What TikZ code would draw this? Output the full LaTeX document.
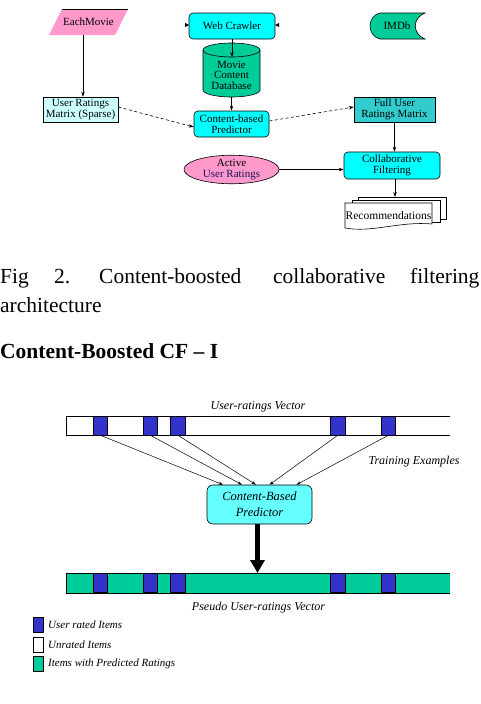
\documentclass[tikz,border=0pt]{standalone}
\usepackage{fontspec}
\setmainfont{Liberation Serif}
\usetikzlibrary{arrows.meta,shapes.geometric}
\definecolor{pinkc}{HTML}{FF99CC}
\definecolor{cyanc}{HTML}{00FFFF}
\definecolor{tealc}{HTML}{00CC99}
\definecolor{lcyan}{HTML}{CCFFFF}
\definecolor{fullc}{HTML}{33CCCC}
\definecolor{bluec}{HTML}{3333CC}
\definecolor{cbpc}{HTML}{66FFFF}
\definecolor{navyc}{HTML}{14145A}
\begin{document}
\begin{tikzpicture}[x=1pt,y=-1pt,
  tf/.style={font=\fontsize{11}{10.5}\selectfont, align=center, inner sep=0pt},
  box/.style={tf, draw, line width=0.6pt},
  rbox/.style={box, rounded corners=4pt},
  arr/.style={line width=0.6pt, -{Stealth[length=5pt,width=3.5pt]}},
  arrs/.style={line width=0.5pt, -{Stealth[length=4.5pt,width=3pt]}},
  it/.style={font=\fontsize{12}{13}\selectfont\itshape, align=center, inner sep=0pt},
  legt/.style={font=\fontsize{11}{11}\selectfont\itshape, anchor=west, inner sep=0pt},
  cell/.style={draw, line width=0.6pt, fill=bluec, minimum width=14.5pt, minimum height=19pt, inner sep=0pt},
  legbox/.style={draw, line width=0.5pt, minimum width=10pt, minimum height=15pt, inner sep=0pt},
  captxt/.style={font=\fontsize{21.5}{26}\selectfont, anchor=base west, inner sep=0pt}
]
\useasboundingbox (0,0) rectangle (480,704);

% ---------- top diagram ----------
% EachMovie parallelogram
\fill[pinkc] (62,9) -- (128,9) -- (115,35) -- (49,35) -- cycle;
\draw[line width=0.6pt] (62,9) -- (128,9);
\node[tf, minimum width=66pt, minimum height=26pt] (em) at (88.5,22) {EachMovie};

% Web Crawler
\node[rbox, fill=cyanc, minimum width=86pt, minimum height=26pt] (wc) at (232,26) {Web Crawler};
\fill (189,25) -- (185,23) -- (185,27) -- cycle;
\fill (275,25) -- (279,23) -- (279,27) -- cycle;

% IMDb
\draw[line width=0.6pt, fill=tealc] (380,13) -- (425,13) .. controls (412,18) and (412,34) .. (425,39) -- (380,39) .. controls (366.7,36) and (366.7,16) .. (380,13) -- cycle;
\node[tf] (imdb) at (397,26) {IMDb};

% Cylinder database
\draw[line width=0.6pt, fill=tealc] (203,50) -- (203,90) arc[start angle=180, end angle=0, x radius=28.5, y radius=7] -- (260,50) arc[start angle=0, end angle=-180, x radius=28.5, y radius=7] -- cycle;
\draw[line width=0.6pt] (203,50) arc[start angle=180, end angle=0, x radius=28.5, y radius=7];
\node[tf] (db) at (231.5,75) {Movie\\Content\\Database};
\coordinate (dbtop) at (232,57);
\coordinate (dbbot) at (231.5,97);

% boxes
\node[box, fill=lcyan, minimum width=75pt, minimum height=25pt] (urm) at (80.5,109.5) {User Ratings\\Matrix (Sparse)};
\node[rbox, fill=cyanc, minimum width=75pt, minimum height=26pt] (cbp) at (231.5,124) {Content-based\\Predictor};
\node[box, fill=fullc, minimum width=81pt, minimum height=25pt] (full) at (394.5,109.5) {Full User\\Ratings Matrix};
\node[rbox, fill=cyanc, minimum width=96pt, minimum height=27pt] (cf) at (392,165.5) {Collaborative\\Filtering};
\node[ellipse, draw, line width=0.6pt, fill=pinkc, minimum width=95pt, minimum height=25pt, inner sep=0pt, font=\fontsize{11}{10.5}\selectfont, align=center] (act) at (231.5,169.5) {Active\\\textcolor{navyc}{User Ratings}};

% Recommendations (multi-document)
\draw[line width=0.6pt, fill=white] (358,197) rectangle (446,219);
\draw[line width=0.6pt, fill=white] (352,200) rectangle (440,222);
\draw[line width=0.6pt, fill=white] (345,203) -- (432,203) -- (432,224) .. controls (400,221) and (372,233) .. (345,228) -- cycle;
\node[tf, font=\fontsize{11.5}{11.5}\selectfont] (rec) at (388.5,216) {Recommendations};
\coordinate (rectop) at (395,197);

% top connectors
\draw[arr] ([xshift=-5.5pt]em.south) -- ([xshift=2.5pt]urm.north);
\draw[arr] (wc.south) -- (dbtop);
\draw[arr] (dbbot) -- (cbp.north);
\draw[arr, dash pattern=on 3pt off 2.5pt] ([yshift=2.5pt]urm.east) -- ([yshift=-3pt]cbp.west);
\draw[arr, dash pattern=on 3pt off 2.5pt] ([yshift=3pt]cbp.east) -- ([yshift=2.5pt]full.west);
\draw[arr] (full.south) -- (full.south |- cf.north);
\draw[arr] (act.east) -- (act.east -| cf.west);
\draw[arr] ([xshift=3pt]cf.south) -- (rectop);

% ---------- caption ----------
\node[captxt] (w1) at (0,283) {Fig};
\node[captxt] (w2) at (54,283) {2.};
\node[captxt] (w3) at (99,283) {Content-boosted};
\node[captxt] (w4) at (273,283) {collaborative};
\node[captxt] (w5) at (410,283) {filtering};
\node[captxt] (w6) at (0,312) {architecture};
\node[captxt, font=\fontsize{21.5}{26}\selectfont\bfseries] (head) at (0,358) {Content-Boosted CF – I};

% ---------- bottom diagram ----------
\node[it] (uvl) at (258,407) {User-ratings Vector};
\fill[white] (66,416) rectangle (450,435);
\draw[line width=0.9pt] (450,416) -- (66,416) -- (66,435) -- (450,435);
\node[cell] (c1) at (100.5,425.5) {};
\node[cell] (c2) at (150.3,425.5) {};
\node[cell] (c3) at (178,425.5) {};
\node[cell] (c4) at (337.7,425.5) {};
\node[cell] (c5) at (388.3,425.5) {};

\node[it] (tex) at (414,462) {Training Examples};

\node[draw, line width=0.6pt, rounded corners=6pt, fill=cbpc, minimum width=105pt, minimum height=39pt, inner sep=0pt, font=\fontsize{12.5}{16}\selectfont\itshape, align=center] (cbp2) at (259.5,504.5) {Content-Based\\Predictor};

\draw[arrs] (c1.south) -- ([xshift=-36.5pt]cbp2.north);
\draw[arrs] (c2.south) -- ([xshift=-17.5pt]cbp2.north);
\draw[arrs] (c3.south) -- ([xshift=-3.5pt]cbp2.north);
\draw[arrs] (c4.south) -- ([xshift=10pt]cbp2.north);
\draw[arrs] (c5.south) -- ([xshift=37pt]cbp2.north);

\coordinate (pvtop) at (257.5,573);
\draw[line width=4.5pt, -{Triangle[length=13pt,width=14pt]}] ([xshift=-2pt]cbp2.south) -- (pvtop);

\fill[tealc] (66,573) rectangle (450,593);
\draw[line width=0.9pt] (450,573) -- (66,573) -- (66,593) -- (450,593);
\node[cell] (d1) at (100.5,583) {};
\node[cell] (d2) at (150.3,583) {};
\node[cell] (d3) at (178,583) {};
\node[cell] (d4) at (337.7,583) {};
\node[cell] (d5) at (388.3,583) {};

\node[it] (pvl) at (258.5,608) {Pseudo User-ratings Vector};

% legend
\node[legbox, fill=bluec] (l1) at (38.3,624.5) {};
\node[legbox, fill=white] (l2) at (38.3,644.5) {};
\node[legbox, fill=tealc] (l3) at (38.3,664) {};
\node[legt] (t1) at (48,624.5) {User rated Items};
\node[legt] (t2) at (48,644.5) {Unrated Items};
\node[legt] (t3) at (48,664) {Items with Predicted Ratings};
\end{tikzpicture}
\end{document}
